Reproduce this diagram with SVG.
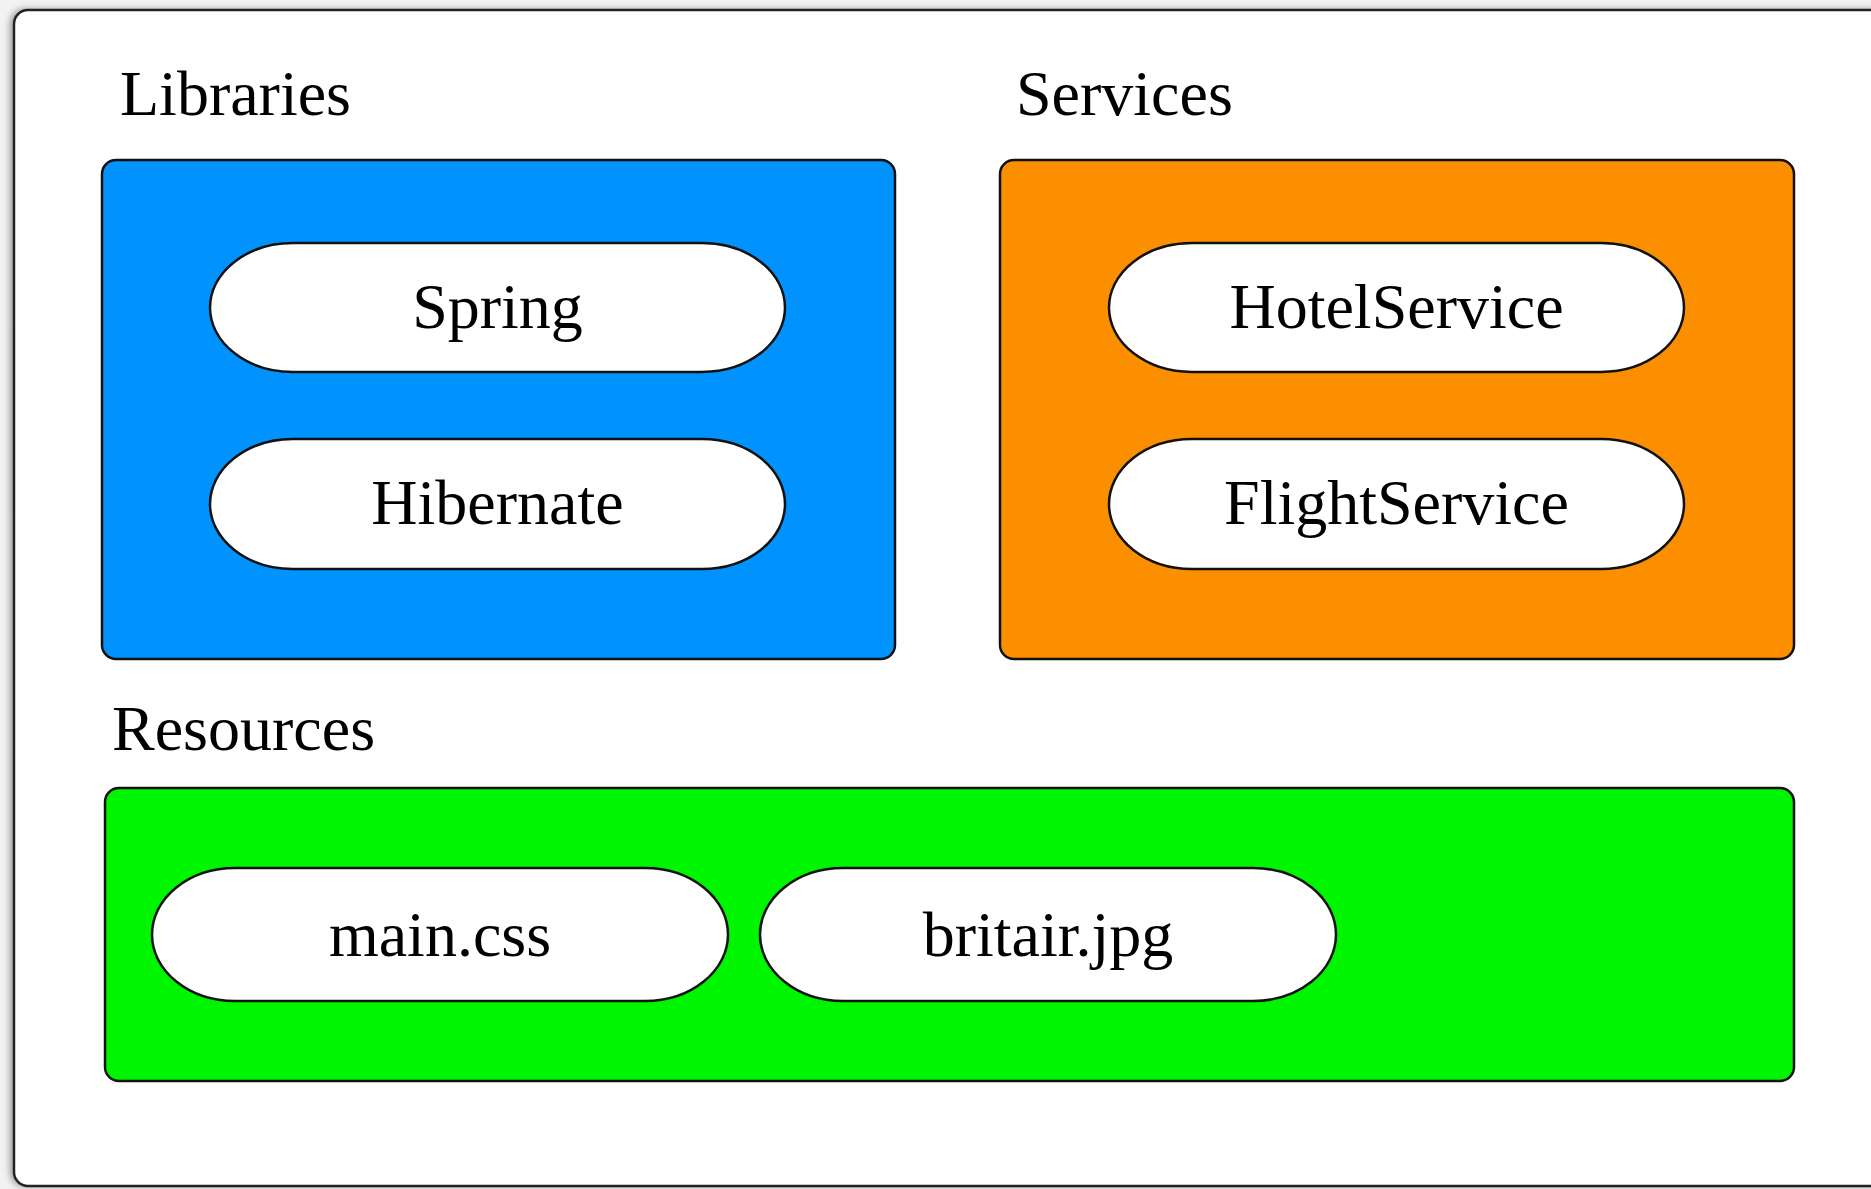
<svg xmlns="http://www.w3.org/2000/svg" width="1871" height="1189" viewBox="0 0 1871 1189">
<style>
.lbl{font-family:"Liberation Serif","Times New Roman",serif;font-size:64px;fill:#000}
.pill{fill:#fff;stroke:#111;stroke-width:2.5}
.grp{stroke:#111;stroke-width:2.5}
</style>
<defs>
<filter id="sh" x="-5%" y="-5%" width="110%" height="110%">
<feDropShadow dx="-3" dy="0" stdDeviation="3" flood-color="#000" flood-opacity="0.35"/>
</filter>
</defs>
<rect x="0" y="0" width="1871" height="1189" fill="#f2f2f2"/>
<rect id="frame" x="14" y="10" width="1900" height="1176" rx="14" fill="#fff" stroke="#222" stroke-width="2.5" filter="url(#sh)"/>
<g id="connectors"/>
<g id="libraries">
<text class="lbl" x="120" y="115">Libraries</text>
<rect class="grp" x="102" y="160" width="793" height="499" rx="14" fill="#0093ff"/>
</g>
<g id="services">
<text class="lbl" x="1016" y="115">Services</text>
<rect class="grp" x="1000" y="160" width="794" height="499" rx="14" fill="#fc8f00"/>
</g>
<g id="resources">
<text class="lbl" x="112" y="750">Resources</text>
<rect class="grp" x="105" y="788" width="1689" height="293" rx="14" fill="#00f500"/>
</g>
<g id="spring">
<path class="pill" d="M293,243 H702 A83,64.5 0 0 1 702,372 H293 A83,64.5 0 0 1 293,243 Z"/>
<text class="lbl" x="497.5" y="328" text-anchor="middle">Spring</text>
</g>
<g id="hibernate">
<path class="pill" d="M293,439 H702 A83,65 0 0 1 702,569 H293 A83,65 0 0 1 293,439 Z"/>
<text class="lbl" x="497.5" y="524" text-anchor="middle">Hibernate</text>
</g>
<g id="hotelservice">
<path class="pill" d="M1192,243 H1601 A83,64.5 0 0 1 1601,372 H1192 A83,64.5 0 0 1 1192,243 Z"/>
<text class="lbl" x="1396.5" y="328" text-anchor="middle">HotelService</text>
</g>
<g id="flightservice">
<path class="pill" d="M1192,439 H1601 A83,65 0 0 1 1601,569 H1192 A83,65 0 0 1 1192,439 Z"/>
<text class="lbl" x="1396.5" y="524" text-anchor="middle">FlightService</text>
</g>
<g id="maincss">
<path class="pill" d="M235,868 H645 A83,66.5 0 0 1 645,1001 H235 A83,66.5 0 0 1 235,868 Z"/>
<text class="lbl" x="440" y="956" text-anchor="middle">main.css</text>
</g>
<g id="britairjpg">
<path class="pill" d="M843,868 H1253 A83,66.5 0 0 1 1253,1001 H843 A83,66.5 0 0 1 843,868 Z"/>
<text class="lbl" x="1048" y="956" text-anchor="middle">britair.jpg</text>
</g>
</svg>
